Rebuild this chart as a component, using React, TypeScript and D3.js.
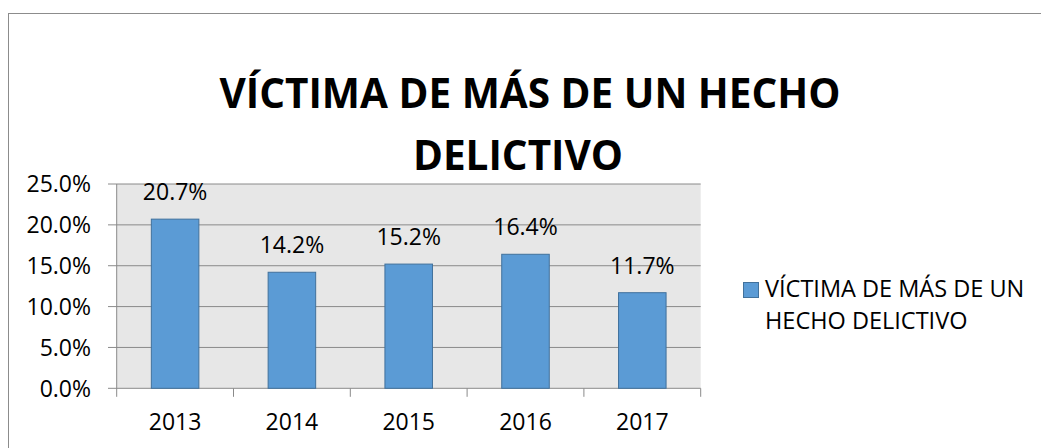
import React from 'react';
import * as d3 from 'd3';

const categories = ['2013', '2014', '2015', '2016', '2017'];
const values = [0.207, 0.142, 0.152, 0.164, 0.117];
const yTicks = [0, 0.05, 0.1, 0.15, 0.2, 0.25];
const titleLines = ['VÍCTIMA DE MÁS DE UN HECHO', 'DELICTIVO'];
const legendLines = ['VÍCTIMA DE MÁS DE UN', 'HECHO DELICTIVO'];

const W = 1041;
const H = 448;
const plot = { left: 116.7, right: 700.7, top: 184, bottom: 388.3 };
const FONT = "'Open Sans', 'Noto Sans', sans-serif";
const GRID = '#8a8a8a';

export default function App() {
  const x = d3
    .scaleBand<string>()
    .domain(categories)
    .range([plot.left, plot.right])
    .paddingInner(0.593)
    .paddingOuter(0.2965);
  const y = d3.scaleLinear().domain([0, 0.25]).range([plot.bottom, plot.top]);
  const fmt = d3.format('.1%');
  const step = x.step();

  return (
    <svg
      width={W}
      height={H}
      style={{ position: 'absolute', left: 0, top: 0, background: '#fff' }}
      fontFamily={FONT}
    >
      <rect x={8.5} y={13.5} width={W} height={H} fill="#fff" stroke="#8c8c8c" strokeWidth={1} />
      {/* title */}
      <text x={530} y={108} textAnchor="middle" fontSize={40.5} fontWeight="bold" fill="#000">
        {titleLines[0]}
      </text>
      <text x={518} y={170} textAnchor="middle" fontSize={40.5} fontWeight="bold" fill="#000">
        {titleLines[1]}
      </text>
      {/* plot background */}
      <rect
        x={plot.left}
        y={plot.top}
        width={plot.right - plot.left}
        height={plot.bottom - plot.top}
        fill="#e7e7e7"
      />
      {/* gridlines and y ticks */}
      {yTicks.map((t) => (
        <g key={t}>
          <line x1={108} x2={plot.right} y1={y(t)} y2={y(t)} stroke={GRID} strokeWidth={1} />
          <text
            x={91}
            y={y(t)}
            dy="0.36em"
            textAnchor="end"
            fontSize={23}
            fill="#000"
          >
            {fmt(t)}
          </text>
        </g>
      ))}
      {/* y axis line */}
      <line x1={plot.left} x2={plot.left} y1={plot.top} y2={plot.bottom + 8.5} stroke={GRID} strokeWidth={1} />
      {/* x ticks */}
      {categories.map((c, i) => (
        <line
          key={'t' + c}
          x1={plot.left + step * (i + 1)}
          x2={plot.left + step * (i + 1)}
          y1={plot.bottom}
          y2={plot.bottom + 8.5}
          stroke={GRID}
          strokeWidth={1}
        />
      ))}
      {/* bars */}
      {categories.map((c, i) => (
        <rect
          key={'b' + c}
          x={x(c)}
          y={y(values[i])}
          width={x.bandwidth()}
          height={y(0) - y(values[i])}
          fill="#5b9bd5"
          stroke="#41719c"
          strokeWidth={1}
        />
      ))}
      {/* data labels */}
      {categories.map((c, i) => (
        <text
          key={'l' + c}
          x={(x(c) as number) + x.bandwidth() / 2}
          y={y(values[i]) - 19}
          textAnchor="middle"
          fontSize={23}
          fill="#000"
        >
          {fmt(values[i])}
        </text>
      ))}
      {/* x labels */}
      {categories.map((c) => (
        <text
          key={'x' + c}
          x={(x(c) as number) + x.bandwidth() / 2}
          y={430}
          textAnchor="middle"
          fontSize={23}
          fill="#000"
        >
          {c}
        </text>
      ))}
      {/* legend */}
      <rect x={743.5} y={282.5} width={15} height={15} fill="#5b9bd5" stroke="#41719c" strokeWidth={1} />
      {legendLines.map((l, i) => (
        <text key={l} x={765} y={297 + i * 31.7} fontSize={23.5} fill="#000">
          {l}
        </text>
      ))}
    </svg>
  );
}
